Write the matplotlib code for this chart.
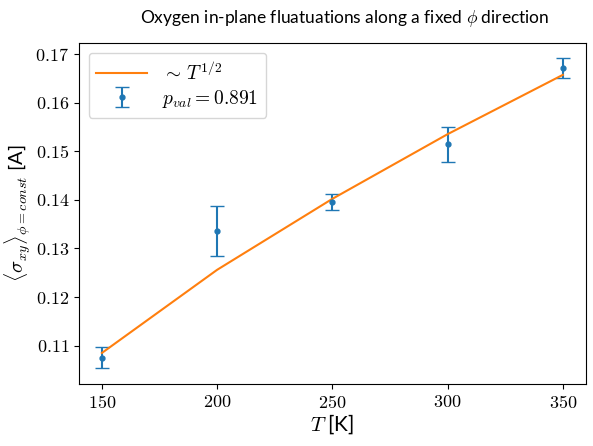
import matplotlib
matplotlib.use('Agg')
import matplotlib.pyplot as plt
import matplotlib.ticker as ticker

plt.rcParams['mathtext.fontset'] = 'cm'
plt.rcParams['font.family'] = ['Lato', 'DejaVu Sans']

# data
T = [150, 200, 250, 300, 350]
sigma = [0.1075, 0.1336, 0.1396, 0.1514, 0.1671]
sigma_err = [0.0022, 0.0051, 0.0016, 0.0036, 0.0020]
fit = [0.1085, 0.1256, 0.1402, 0.1535, 0.1657]

fig = plt.figure(figsize=(5.93, 4.46), dpi=100)
ax = fig.add_axes([0.133, 0.139, 0.855, 0.765])

ax.errorbar(T, sigma, yerr=sigma_err, fmt='o', ms=3.5, capsize=5,
            color='C0', label=r'$p_{val} = 0.891$')
ax.plot(T, fit, color='C1', label=r'$\sim\,T^{1/2}$')

ax.xaxis.set_major_locator(ticker.MultipleLocator(50))
ax.yaxis.set_major_locator(ticker.MultipleLocator(0.01))
ax.xaxis.set_major_formatter(ticker.FuncFormatter(lambda v, p: r'$%d$' % v))
ax.yaxis.set_major_formatter(ticker.FuncFormatter(lambda v, p: r'$%.2f$' % v))
ax.tick_params(labelsize=13)

ax.set_xlabel(r'$T$ [K]', fontsize=15, labelpad=1)
ax.set_ylabel(r'$\langle\sigma_{xy}\rangle_{\phi=const}$ [A]', fontsize=14.5, labelpad=2)
ax.set_title(r'Oxygen in-plane fluatuations along a fixed $\phi$ direction',
             fontsize=12.5, pad=14, x=0.525)
ax.legend(loc='upper left', fontsize=14, handlelength=2.6, labelspacing=0.25,
          handletextpad=0.8)

fig.savefig('out.png')
